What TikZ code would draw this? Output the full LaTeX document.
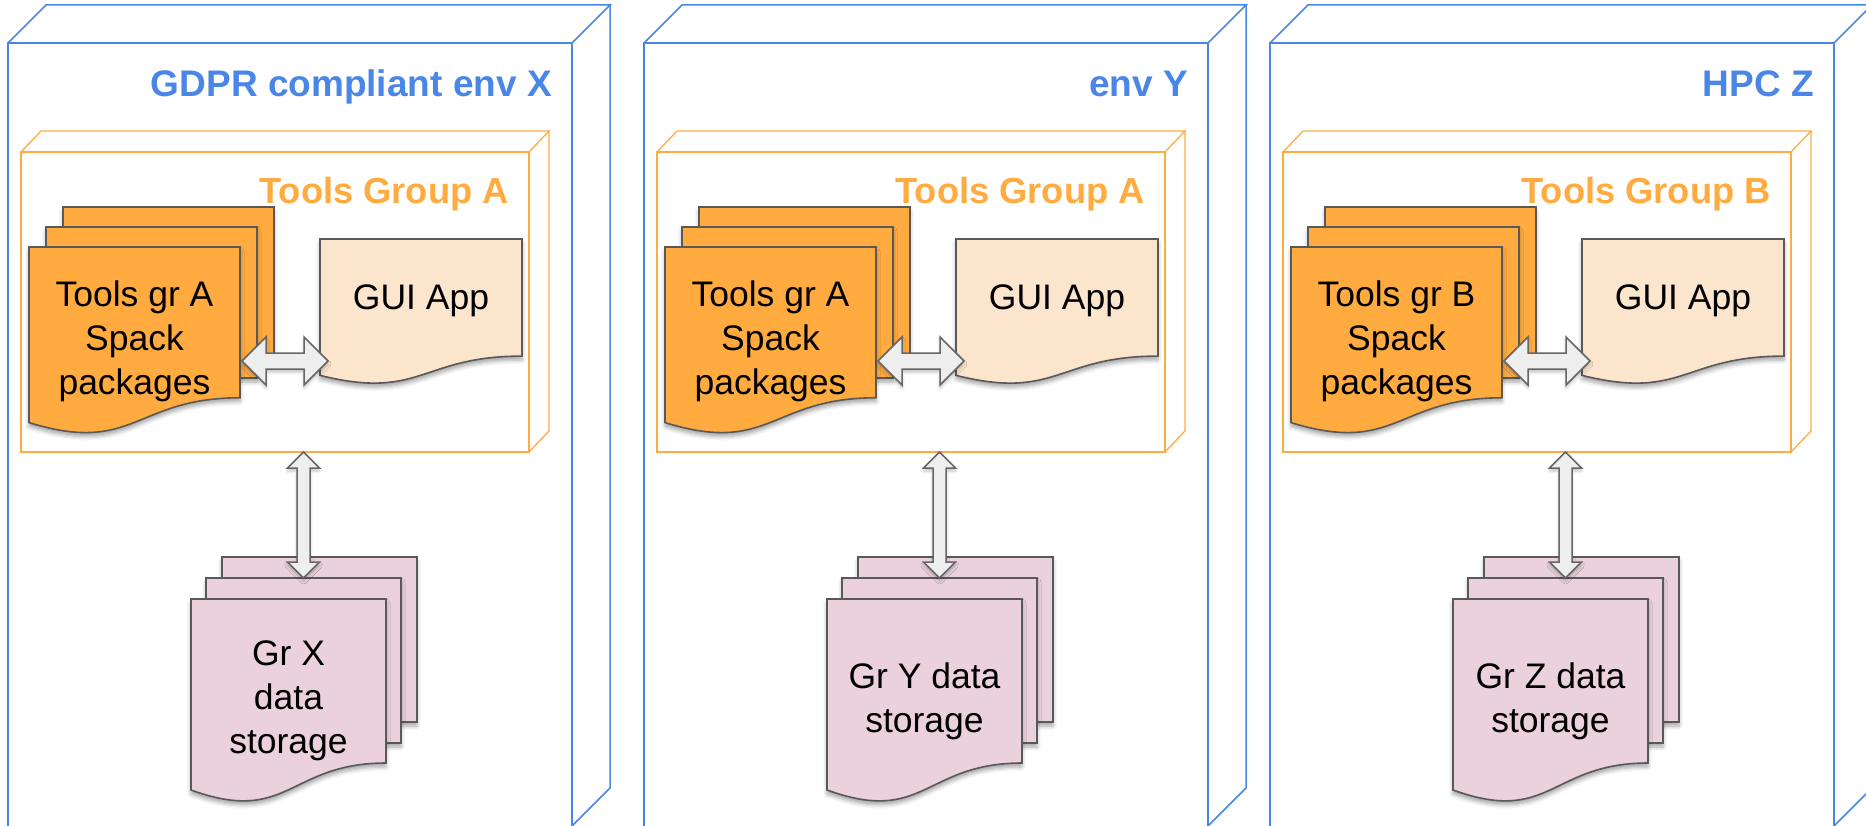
\documentclass[tikz,border=0pt]{standalone}
\usepackage{fontspec}
\setmainfont{Liberation Sans}
\usepackage{xcolor}
\usetikzlibrary{calc,shadows.blur}

\definecolor{envblue}{HTML}{4A86E8}
\definecolor{grporange}{HTML}{FFAB40}
\definecolor{guifill}{HTML}{FCE5CD}
\definecolor{datafill}{HTML}{EAD1DC}
\definecolor{pageline}{HTML}{595959}
\definecolor{arrowline}{HTML}{666666}
\definecolor{arrowfill}{HTML}{EEEEEE}

% page with a wavy bottom, built on the box of a node
\newcommand{\docshape}[2]{%
  \path[#2] (#1.north west) -- (#1.north east)
    -- ($(#1.north east)!0.802!(#1.south east)$)
    .. controls ($(#1.north)!0.802!(#1.south)$) and ($(#1.north)!1.107!(#1.south)$)
    .. ($(#1.north west)!0.934!(#1.south west)$) -- cycle;}

% block arrows with two heads
\newcommand{\harrow}[2]{%
  \draw[blockarrow] (#1) -- ++(24,-24) -- ++(0,16) -- ($(#2)+(-24,-8)$)
    -- ++(0,-16) -- (#2) -- ++(-24,24) -- ++(0,-16) -- ($(#1)+(24,8)$)
    -- ++(0,16) -- cycle;}
\newcommand{\varrow}[2]{%
  \draw[blockarrow] (#1) -- ++(16,16) -- ++(-9.5,0) -- ($(#2)+(6.5,-16)$)
    -- ++(9.5,0) -- (#2) -- ++(-16,-16) -- ++(9.5,0) -- ($(#1)+(-6.5,16)$)
    -- ++(-9.5,0) -- cycle;}

\begin{document}
\begin{tikzpicture}[x=1pt, y=-1pt,
    envline/.style={draw=envblue, line width=1.5pt},
    grpline/.style={draw=grporange, line width=1.3pt},
    envtitle/.style={text=envblue, inner sep=0pt, font=\fontsize{37}{44}\selectfont\bfseries},
    grptitle/.style={text=grporange, inner sep=0pt, font=\fontsize{36.3}{44}\selectfont\bfseries},
    pagebox/.style={rectangle, inner sep=0pt, outer sep=0pt},
    page/.style={draw=pageline, line width=1.6pt, inner sep=0pt, outer sep=0pt,
      blur shadow={shadow xshift=0pt, shadow yshift=-4pt, shadow blur radius=4pt, shadow opacity=35}},
    doctext/.style={align=center, inner sep=0pt, font=\fontsize{35.5}{44}\selectfont},
    blockarrow/.style={draw=arrowline, fill=arrowfill, line width=1.5pt, line join=miter,
      blur shadow={shadow xshift=0pt, shadow yshift=-3pt, shadow blur radius=3pt, shadow opacity=25}}]

  \useasboundingbox (0,0) rectangle (1866,826);
  \clip (0,0) rectangle (1866,826);

  \foreach \sx/\i/\env/\grp/\tool/\data in {%
      0/X/{GDPR compliant env X}/A/{Tools gr A\\Spack\\packages}/{Gr X\\data\\storage},
      636/Y/{env Y}/A/{Tools gr A\\Spack\\packages}/{Gr Y data\\storage},
      1262/Z/{HPC Z}/B/{Tools gr B\\Spack\\packages}/{Gr Z data\\storage}}{
  \begin{scope}[xshift=\sx]
    % environment box
    \draw[envline] (8,43) -- (46,5) -- (610,5) -- (572,43);
    \draw[envline] (610,5) -- (610,788) -- (572,826);
    \draw[envline] (8,830) -- (8,43) -- (572,43) -- (572,830);
    \node[envtitle, anchor=base east] (env-\i) at (552,97) {\env};

    % tools group box
    \node[pagebox, grpline, minimum width=508, minimum height=300, anchor=north west]
      (grpbox-\i) at (21,152) {};
    \draw[grpline] (21,152) -- (41,131) -- (549,131) -- (529,152);
    \draw[grpline] (549,131) -- (549,431) -- (529,452);
    \node[grptitle, anchor=base east] (grp-\i) at (509,204) {Tools Group \grp};

    % stack of tool packages
    \node[page, fill=grporange, minimum width=211, minimum height=151, anchor=north west]
      (toolsB-\i) at (63,207) {};
    \node[page, fill=grporange, minimum width=211, minimum height=151, anchor=north west]
      (toolsM-\i) at (46,227) {};
    \node[pagebox, minimum width=211, minimum height=188, anchor=north west]
      (tools-\i) at (29,247) {};
    \docshape{tools-\i}{page, fill=grporange}
    \node[doctext] (toolstxt-\i) at (tools-\i) {\tool};

    % gui app
    \node[pagebox, minimum width=202, minimum height=146, anchor=north west]
      (gui-\i) at (320,239) {};
    \docshape{gui-\i}{page, fill=guifill}
    \node[doctext] (guitxt-\i) at ([yshift=11pt]gui-\i.center) {GUI App};

    % stack of data storage
    \node[page, fill=datafill, minimum width=195, minimum height=165, anchor=north west]
      (dataB-\i) at (222,557) {};
    \node[page, fill=datafill, minimum width=195, minimum height=165, anchor=north west]
      (dataM-\i) at (206,578) {};
    \node[pagebox, minimum width=195, minimum height=204.5, anchor=north west]
      (data-\i) at (191,599) {};
    \docshape{data-\i}{page, fill=datafill}
    \node[doctext] (datatxt-\i) at (data-\i) {\data};

    % arrows
    \coordinate (hA-\i) at ($(tools-\i.north east)+(2,114)$);
    \coordinate (hB-\i) at ($(gui-\i.north west)+(8,122)$);
    \harrow{hA-\i}{hB-\i}
    \coordinate (vA-\i) at (dataM-\i.north |- grpbox-\i.south);
    \varrow{vA-\i}{dataM-\i.north}
  \end{scope}
  }
\end{tikzpicture}
\end{document}
